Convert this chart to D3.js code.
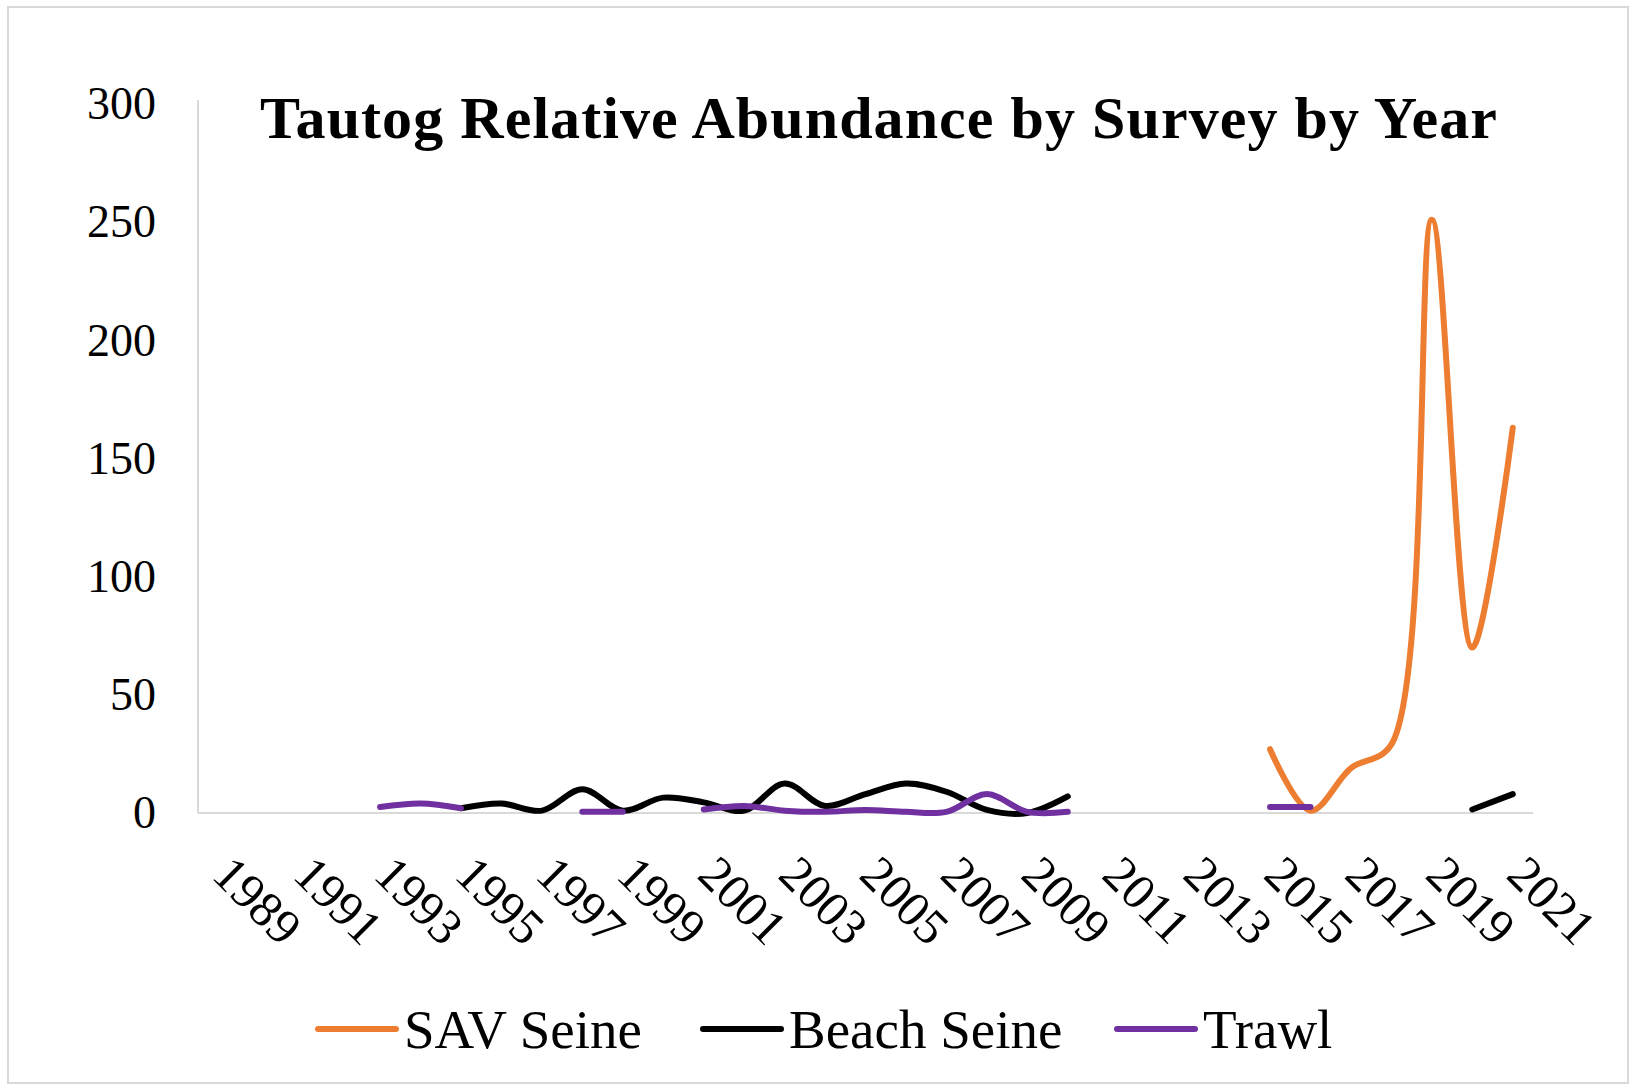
<!DOCTYPE html>
<html>
<head>
<meta charset="utf-8">
<script src="https://cdn.jsdelivr.net/npm/d3@7"></script>
<style>
  html, body { margin: 0; padding: 0; background: #fff; }
  svg { display: block; }
</style>
</head>
<body>
<svg id="chart" width="1633" height="1087"></svg>
<script>
// ---- Data ----
const years = d3.range(1989, 2022);
const tickYears = d3.range(1989, 2022, 2);
const yTicks = [0, 50, 100, 150, 200, 250, 300];
const seriesNames = ["SAV Seine", "Beach Seine", "Trawl"];
const seriesColors = ["#ED7D31", "#000000", "#7030A0"];
const N = null;
// values by year 1989..2021
const savSeine = [N,N,N,N,N,N,N,N,N,N,N,N,N,N,N,N,N,N,N,N,N,N,N,N,N,N,27,1,19,29,251,70,163];
const beachSeine = [N,N,N,N,N,N,2,4,1,10,1,6.5,4.5,1,12.5,3,8,12.5,9,1.3,0,7,N,N,N,N,N,N,N,N,N,1.5,8];
const trawl = [N,N,N,N,2.5,4,2,N,N,0.5,0.5,N,1.5,3,1,0.5,1.3,0.5,0.5,8,0.5,0.5,N,N,N,N,2.5,2.5,N,N,N,N,N];
const seriesValues = [savSeine, beachSeine, trawl];

// ---- Layout ----
const svg = d3.select("#chart");
const pLeft = 198, pRight = 1533, pTop = 104, pBottom = 813;
const font = "'Liberation Serif', 'Times New Roman', serif";

svg.append("rect").attr("x", 8).attr("y", 7).attr("width", 1620).attr("height", 1076)
  .attr("fill", "#fff").attr("stroke", "#d9d9d9").attr("stroke-width", 2);

const x = d3.scaleBand().domain(years).range([pLeft, pRight]).padding(0);
const cx = yr => x(yr) + x.bandwidth() / 2;
const y = d3.scaleLinear().domain([0, 300]).range([pBottom, pTop]);

// Y axis
const yAxis = svg.append("g").attr("transform", `translate(${pLeft},0)`)
  .call(d3.axisLeft(y).tickValues(yTicks).tickSize(0).tickPadding(42));
yAxis.select(".domain").remove();
yAxis.selectAll("text").attr("font-family", font).attr("font-size", 46).attr("fill", "#000");

// axis lines
svg.append("line").attr("x1", pLeft).attr("x2", pLeft).attr("y1", pTop - 4).attr("y2", pBottom)
  .attr("stroke", "#d9d9d9").attr("stroke-width", 2);
svg.append("line").attr("x1", pLeft).attr("x2", pRight).attr("y1", pBottom).attr("y2", pBottom)
  .attr("stroke", "#d9d9d9").attr("stroke-width", 2);

// X labels
svg.append("g").selectAll("text").data(tickYears).join("text")
  .attr("transform", d => `translate(${cx(d) - 8},${pBottom + 64}) rotate(45)`)
  .attr("font-family", font).attr("font-size", 50).attr("fill", "#000")
  .attr("text-anchor", "start")
  .text(d => d);

// Lines
const line = d3.line()
  .defined(d => d.v !== null)
  .x(d => cx(d.year))
  .y(d => y(d.v))
  .curve(d3.curveCatmullRom.alpha(0.5));

seriesValues.forEach((vals, i) => {
  const pts = years.map((yr, j) => ({ year: yr, v: vals[j] }));
  svg.append("path").attr("d", line(pts))
    .attr("fill", "none").attr("stroke", seriesColors[i]).attr("stroke-width", 6)
    .attr("stroke-linecap", "round").attr("stroke-linejoin", "round");
});

// Title
svg.append("text").attr("x", 260).attr("y", 138)
  .attr("font-family", font).attr("font-weight", "bold").attr("font-size", 60)
  .attr("textLength", 1237).attr("lengthAdjust", "spacing")
  .text("Tautog Relative Abundance by Survey by Year");

// Legend
const legendX = [318, 703, 1117];
const legend = svg.append("g").selectAll("g").data(seriesNames).join("g")
  .attr("transform", (d, i) => `translate(${legendX[i]},0)`);
legend.append("line").attr("x1", 0).attr("x2", 78).attr("y1", 1029).attr("y2", 1029)
  .attr("stroke", (d, i) => seriesColors[i]).attr("stroke-width", 6).attr("stroke-linecap", "round");
legend.append("text").attr("x", 86).attr("y", 1048)
  .attr("font-family", font).attr("font-size", 55).attr("fill", "#000")
  .text(d => d);
</script>
</body>
</html>
